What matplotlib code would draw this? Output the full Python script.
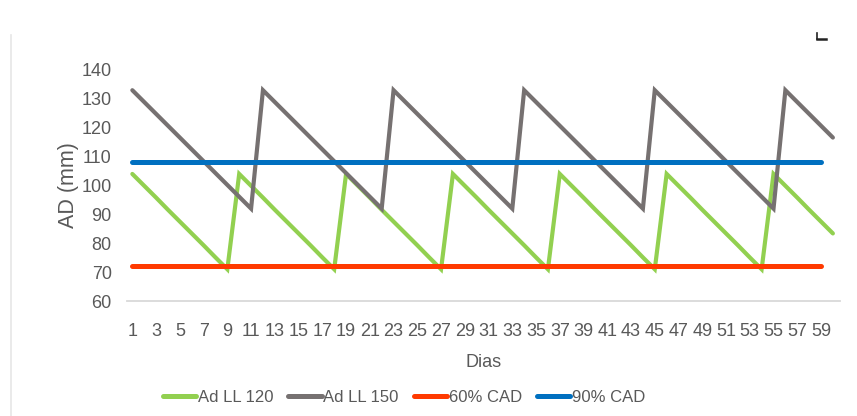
import matplotlib
matplotlib.use("Agg")
import matplotlib.pyplot as plt
from matplotlib import font_manager
from matplotlib.lines import Line2D

# Pick a narrow sans face if present
def pick_font(candidates):
    for name in candidates:
        try:
            font_manager.findfont(name, fallback_to_default=False)
            return name
        except Exception:
            continue
    return "DejaVu Sans"

FONT = pick_font(["Liberation Sans Narrow", "Liberation Sans", "DejaVu Sans"])
plt.rcParams["font.family"] = [FONT, "DejaVu Sans"]

days = [1, 2, 3, 4, 5, 6, 7, 8, 9, 10,
        11, 12, 13, 14, 15, 16, 17, 18, 19, 20,
        21, 22, 23, 24, 25, 26, 27, 28, 29, 30,
        31, 32, 33, 34, 35, 36, 37, 38, 39, 40,
        41, 42, 43, 44, 45, 46, 47, 48, 49, 50,
        51, 52, 53, 54, 55, 56, 57, 58, 59, 60]

ad_ll_120 = [104, 99.9, 95.8, 91.6, 87.5, 83.4, 79.3, 75.1, 71,
             104, 99.9, 95.8, 91.6, 87.5, 83.4, 79.3, 75.1, 71,
             104, 99.9, 95.8, 91.6, 87.5, 83.4, 79.3, 75.1, 71,
             104, 99.9, 95.8, 91.6, 87.5, 83.4, 79.3, 75.1, 71,
             104, 99.9, 95.8, 91.6, 87.5, 83.4, 79.3, 75.1, 71,
             104, 99.9, 95.8, 91.6, 87.5, 83.4, 79.3, 75.1, 71,
             104, 99.9, 95.8, 91.6, 87.5, 83.4]

ad_ll_150 = [133, 128.9, 124.8, 120.7, 116.6, 112.5, 108.4, 104.3, 100.2, 96.1, 92,
             133, 128.9, 124.8, 120.7, 116.6, 112.5, 108.4, 104.3, 100.2, 96.1, 92,
             133, 128.9, 124.8, 120.7, 116.6, 112.5, 108.4, 104.3, 100.2, 96.1, 92,
             133, 128.9, 124.8, 120.7, 116.6, 112.5, 108.4, 104.3, 100.2, 96.1, 92,
             133, 128.9, 124.8, 120.7, 116.6, 112.5, 108.4, 104.3, 100.2, 96.1, 92,
             133, 128.9, 124.8, 120.7, 116.6]

cad_days = days[:59]
cad_60 = [72] * 59
cad_90 = [108] * 59

x_tick_days = [1, 3, 5, 7, 9, 11, 13, 15, 17, 19, 21, 23, 25, 27, 29,
               31, 33, 35, 37, 39, 41, 43, 45, 47, 49, 51, 53, 55, 57, 59]
x_tick_labels = [str(d) for d in x_tick_days]
y_ticks = [60, 70, 80, 90, 100, 110, 120, 130, 140]

TEXT = "#595959"
GREEN = "#92D050"
GRAY = "#767171"
RED = "#FF3A00"
BLUE = "#0070C0"

W, H = 857, 416
fig = plt.figure(figsize=(W / 100, H / 100), dpi=100)
ax = fig.add_axes([127 / W, 1 - 301 / H, (840 - 127) / W, (301 - 70) / H])

ax.plot(days, ad_ll_120, color=GREEN, lw=3.0, solid_capstyle="round",
        solid_joinstyle="miter", label="Ad LL 120", zorder=3)
ax.plot(days, ad_ll_150, color=GRAY, lw=3.0, solid_capstyle="round",
        solid_joinstyle="miter", label="Ad LL 150", zorder=3)
ax.plot(cad_days, cad_60, color=RED, lw=3.6, solid_capstyle="round",
        label="60% CAD", zorder=4)
ax.plot(cad_days, cad_90, color=BLUE, lw=3.6, solid_capstyle="round",
        label="90% CAD", zorder=4)

ax.set_xlim(0.55, 60.6)
ax.set_ylim(60, 140)
ax.set_yticks(y_ticks)
ax.set_xticks(x_tick_days)
ax.set_xticklabels(x_tick_labels)

for side in ("top", "right", "left"):
    ax.spines[side].set_visible(False)
ax.spines["bottom"].set_color("#D9D9D9")
ax.spines["bottom"].set_linewidth(1.3)
ax.spines["bottom"].set_zorder(1)

ax.tick_params(axis="both", length=0, labelsize=13, labelcolor=TEXT)
ax.tick_params(axis="y", pad=11)
ax.tick_params(axis="x", pad=16)

ax.set_ylabel("AD (mm)", fontsize=15.5, color=TEXT, labelpad=2,
              family=["Liberation Sans", "DejaVu Sans"])
ax.set_xlabel("Dias", fontsize=13, color=TEXT, labelpad=10)

handles = [Line2D([], [], color=GREEN, lw=3.6, solid_capstyle="round"),
           Line2D([], [], color=GRAY, lw=3.6, solid_capstyle="round"),
           Line2D([], [], color=RED, lw=3.6, solid_capstyle="round"),
           Line2D([], [], color=BLUE, lw=3.6, solid_capstyle="round")]
labels = ["Ad LL 120", "Ad LL 150", "60% CAD", "90% CAD"]
leg = fig.legend(handles, labels, loc="center", bbox_to_anchor=(404 / W, 1 - 397 / H),
                 ncol=4, frameon=False, fontsize=12, handlelength=2.0,
                 handletextpad=0.1, columnspacing=0.9, borderpad=0)
for t in leg.get_texts():
    t.set_color(TEXT)

# Thin frame edge on the left and a small dark mark near the top right
fig.add_artist(Line2D([11 / W, 11 / W], [0, 1 - 35 / H], transform=fig.transFigure,
                      color="#E6E6E6", lw=1.2))
fig.add_artist(Line2D([817 / W, 817 / W], [1 - 33 / H, 1 - 39 / H],
                      transform=fig.transFigure, color="#222222", lw=1.2))
fig.add_artist(Line2D([817 / W, 826 / W], [1 - 38.5 / H, 1 - 38.5 / H],
                      transform=fig.transFigure, color="#222222", lw=1.8))

fig.savefig("out.png", dpi=100, facecolor="white")
